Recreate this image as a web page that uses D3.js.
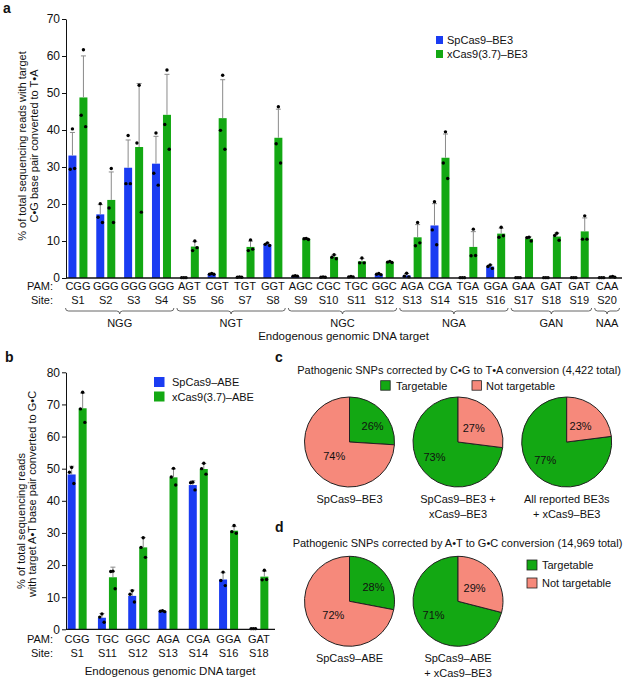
<!DOCTYPE html>
<html>
<head>
<meta charset="utf-8">
<script src="https://cdn.jsdelivr.net/npm/d3@7"></script>
<style>
  html, body { margin: 0; padding: 0; background: #fff; }
  svg text { font-family: "Liberation Sans", Arial, Helvetica, sans-serif; fill: #111; }
</style>
</head>
<body>
<svg id="chart" width="636" height="681"></svg>
<script>
// ---------------- DATA ----------------
// Panel a
const aSites = ["S1","S2","S3","S4","S5","S6","S7","S8","S9","S10","S11","S12","S13","S14","S15","S16","S17","S18","S19","S20"];
const aPams  = ["CGG","GGG","GGG","GGG","AGT","CGT","TGT","GGT","AGC","CGC","TGC","GGC","AGA","CGA","TGA","GGA","GAA","GAT","GAT","CAA"];
const aBlue  = [33.1,17.2,29.8,30.9,0.1,1.1,0.2,9.1,0.5,0.2,0.3,1.0,0.7,14.2,0.1,3.1,0.1,0.1,0.1,0.1];
const aGreen = [48.8,21.1,35.4,44.1,8.5,43.2,8.4,37.9,10.6,5.7,4.5,4.3,11.0,32.5,8.4,12.0,10.6,11.2,12.6,0.3];
const aBlueDots = [[40.3,29.4,29.6],[20.1,16.4,15.0],[38.5,25.5,25.5],[39.2,28.3,25.1],[0.1,0.1,0.1],[1.2,1.0,1.0],[0.3,0.2,0.2],[9.5,9.1,8.8],[0.6,0.5,0.5],[0.3,0.2,0.2],[0.4,0.3,0.3],[1.2,1.0,0.9],[1.3,0.5,0.3],[20.6,13.0,9.0],[0.1,0.1,0.1],[3.5,3.1,2.6],[0.1,0.1,0.1],[0.1,0.1,0.1],[0.1,0.1,0.1],[0.1,0.1,0.1]];
const aGreenDots = [[61.7,44.0,40.9],[29.6,18.9,15.0],[52.1,36.5,17.8],[56.2,41.5,34.8],[10.0,7.4,8.2],[54.8,39.9,34.8],[10.3,7.4,7.8],[46.3,36.3,31.1],[10.7,10.6,10.4],[6.3,5.6,5.2],[5.4,4.1,4.1],[4.5,4.3,4.2],[15.0,8.7,9.5],[39.5,31.1,26.9],[13.2,6.0,6.1],[13.7,11.0,11.4],[11.0,10.9,10.0],[12.1,11.5,10.2],[16.8,10.5,10.5],[0.4,0.3,0.2]];
const aGroups = [["NGG","S1","S4"],["NGT","S5","S8"],["NGC","S9","S12"],["NGA","S13","S16"],["GAN","S17","S19"],["NAA","S20","S20"]];
const aTicks = [0,10,20,30,40,50,60,70];
const aSeries = ["SpCas9–BE3","xCas9(3.7)–BE3"];

// Panel b
const bSites = ["S1","S11","S12","S13","S14","S16","S18"];
const bPams  = ["CGG","TGC","GGC","AGA","CGA","GGA","GAT"];
const bBlue  = [48.2,3.6,10.4,5.6,44.9,15.5,0.2];
const bGreen = [68.8,16.2,25.5,47.3,49.9,30.7,16.4];
const bBlueDots = [[50.4,48.9,45.4],[4.8,3.8,2.2],[12.0,10.9,8.5],[5.8,5.6,5.5],[45.8,45.6,43.4],[17.8,15.2,13.6],[0.2,0.2,0.2]];
const bGreenDots = [[73.8,68.6,64.4],[18.1,18.0,12.6],[28.5,25.5,22.4],[50.1,47.4,44.9],[51.7,50.0,48.3],[32.3,30.4,29.9],[18.4,15.4,15.5]];
const bTicks = [0,10,20,30,40,50,60,70,80];
const bSeries = ["SpCas9–ABE","xCas9(3.7)–ABE"];

// Panel c / d pies (Targetable %, Not targetable %)
const pieCats = ["Targetable","Not targetable"];
const cTargetable = [26,73,77];
const cNotTargetable = [74,27,23];
const cNames = [["SpCas9–BE3"],["SpCas9–BE3 +","xCas9–BE3"],["All reported BE3s","+ xCas9–BE3"]];
const dTargetable = [28,71];
const dNotTargetable = [72,29];
const dNames = [["SpCas9–ABE"],["SpCas9–ABE","+ xCas9–BE3"]];

// ---------------- STYLE ----------------
const BLUE = "#1a3cf2", GREEN = "#13a813", SALMON = "#f6897b", ERR = "#8a8a8a";
const svg = d3.select("#chart");

function sd(arr){ const m = d3.mean(arr); return Math.sqrt(d3.sum(arr, v => (v-m)*(v-m)) / (arr.length-1)); }

function barPanel(opt){
  const g = svg.append("g");
  const x = d3.scaleBand().domain(opt.sites).range(opt.xRange).padding(0);
  const inner = d3.scaleBand().domain(["blue","green"]).range([(x.bandwidth()-19)/2,(x.bandwidth()+19)/2]).paddingInner(0.2727);
  const y = d3.scaleLinear().domain(opt.yDomain).range(opt.yRange);
  const series = [
    {key:"blue", color:BLUE, vals:opt.blue, dots:opt.blueDots},
    {key:"green", color:GREEN, vals:opt.green, dots:opt.greenDots}
  ];
  series.forEach(s => {
    const sg = g.append("g");
    opt.sites.forEach((site,i) => {
      const x0 = x(site) + inner(s.key), bw = inner.bandwidth(), cx = x0 + bw/2;
      const v = s.vals[i], e = sd(s.dots[i]);
      sg.append("rect").attr("x", x0).attr("y", y(v)).attr("width", bw).attr("height", y(0)-y(v)).attr("fill", s.color);
      // error bar (upward)
      sg.append("line").attr("x1", cx).attr("x2", cx).attr("y1", y(v)).attr("y2", y(v+e)).attr("stroke", ERR).attr("stroke-width", 1);
      sg.append("line").attr("x1", cx-2.5).attr("x2", cx+2.5).attr("y1", y(v+e)).attr("y2", y(v+e)).attr("stroke", ERR).attr("stroke-width", 1);
      const offs = [0,-2.2,2.2];
      s.dots[i].forEach((d,j) => {
        sg.append("circle").attr("cx", cx + offs[j]).attr("cy", y(d)).attr("r", 1.7).attr("fill", "#000");
      });
    });
  });
  // y axis
  const ax = d3.axisLeft(y).tickValues(opt.ticks).tickSize(4).tickSizeOuter(0).tickPadding(2);
  const ag = g.append("g").attr("transform", `translate(${opt.axisX},0)`).call(ax);
  ag.selectAll("text").style("font-size","12px").attr("fill","#111");
  ag.selectAll("line,path").attr("stroke","#111");
  // x baseline
  const xa = d3.axisBottom(x).tickSize(0).tickSizeOuter(0).tickFormat("");
  const xg = g.append("g").attr("transform", `translate(0,${y(0)})`).call(xa);
  xg.select("path").attr("d", `M${opt.axisX},0H${opt.xRange[1]+1}`).attr("stroke","#111").attr("stroke-width",1.3);
  // PAM and Site labels
  g.append("text").attr("x", opt.axisX-13).attr("y", opt.pamY).attr("text-anchor","end").style("font-size","11px").text("PAM:");
  g.append("text").attr("x", opt.axisX-13).attr("y", opt.siteY).attr("text-anchor","end").style("font-size","11px").text("Site:");
  opt.sites.forEach((site,i) => {
    const cx = x(site) + x.bandwidth()/2;
    g.append("text").attr("x", cx).attr("y", opt.pamY).attr("text-anchor","middle").style("font-size","11px").text(opt.pams[i]);
    g.append("text").attr("x", cx).attr("y", opt.siteY).attr("text-anchor","middle").style("font-size","11px").text(site);
  });
  // title
  g.append("text").attr("x", (opt.axisX+opt.xRange[1])/2).attr("y", opt.titleY).attr("text-anchor","middle").style("font-size","11.5px").text("Endogenous genomic DNA target");
  // y label
  opt.yLabel.forEach(l => {
    g.append("text").attr("transform", `translate(${l[1]},${l[2]}) rotate(-90)`).attr("text-anchor","middle").style("font-size","11px").text(l[0]);
  });
  // legend
  series.forEach((s,i) => {
    const L = opt.legend;
    g.append("rect").attr("x", L.x).attr("y", L.y + i*L.dy).attr("width", L.w).attr("height", L.h).attr("fill", s.color);
    g.append("text").attr("x", L.tx).attr("y", L.y + i*L.dy + L.h/2 + 4).style("font-size","11px").text(opt.seriesNames[i]);
  });
  return {x, y, g};
}

// ---------- Panel a ----------
const pa = barPanel({
  sites: aSites, pams: aPams, blue: aBlue, green: aGreen, blueDots: aBlueDots, greenDots: aGreenDots,
  xRange: [64, 621], yDomain: [0,70], yRange: [278, 19], ticks: aTicks, axisX: 66,
  pamY: 290.3, siteY: 304, titleY: 339.5,
  yLabel: [["% of total sequencing reads with target", 26, 146], ["C•G base pair converted to T•A", 38, 146]],
  legend: {x: 436, y: 36, w: 7, h: 8, dy: 14, tx: 447},
  seriesNames: aSeries
});
// group brackets
aGroups.forEach(gr => {
  const x0 = pa.x(gr[1]) + 1.5, x1 = pa.x(gr[2]) + pa.x.bandwidth() - 1.5, xm = (x0+x1)/2, yb = 311;
  const path = `M${x0},${yb-3} Q${x0},${yb} ${x0+3},${yb} L${xm-3},${yb} Q${xm},${yb} ${xm},${yb+3} Q${xm},${yb} ${xm+3},${yb} L${x1-3},${yb} Q${x1},${yb} ${x1},${yb-3}`;
  pa.g.append("path").attr("d", path).attr("fill","none").attr("stroke","#555").attr("stroke-width",0.9);
  pa.g.append("text").attr("x", xm).attr("y", 326.5).attr("text-anchor","middle").style("font-size","11px").text(gr[0]);
});

// ---------- Panel b ----------
barPanel({
  sites: bSites, pams: bPams, blue: bBlue, green: bGreen, blueDots: bBlueDots, greenDots: bGreenDots,
  xRange: [62, 274], yDomain: [0,80], yRange: [629.3, 372.3], ticks: bTicks, axisX: 66,
  pamY: 643, siteY: 657, titleY: 674.5,
  yLabel: [["% of total sequencing reads", 25, 521], ["with target A•T base pair converted to G•C", 36, 494]],
  legend: {x: 154, y: 377, w: 10.5, h: 10, dy: 14.5, tx: 172},
  seriesNames: bSeries
});

// ---------- Panel labels ----------
[["a",3,13],["b",5,362],["c",275,362],["d",275,532]].forEach(p => {
  svg.append("text").attr("x",p[1]).attr("y",p[2]).style("font-size","14px").style("font-weight","bold").text(p[0]);
});

// ---------- Pies ----------
const pieColor = d3.scaleOrdinal().domain(pieCats).range([GREEN, SALMON]);
const pieGen = d3.pie().value(d => d.v).sort((a,b) => a.v - b.v);
const R = 45;
const arc = d3.arc().innerRadius(0).outerRadius(R);

function drawPie(cx, cy, targ, notT, names){
  const data = [{k:"Targetable", v:targ},{k:"Not targetable", v:notT}];
  const arcs = pieGen(data);
  const g = svg.append("g").attr("transform", `translate(${cx},${cy})`);
  g.selectAll("path").data(arcs).join("path").attr("d", arc).attr("fill", d => pieColor(d.data.k)).attr("stroke","#222").attr("stroke-width",1);
  arcs.forEach((d,i) => {
    const lr = i === 0 ? 28 : 21;
    const a = (d.startAngle + d.endAngle)/2 + (i === 0 ? 0.15 : 0);
    g.append("text").attr("x", Math.sin(a)*lr).attr("y", -Math.cos(a)*lr + 4).attr("text-anchor","middle").style("font-size","11px").text(d.data.v + "%");
  });
  names.forEach((n,i) => {
    g.append("text").attr("x", 0).attr("y", R + 60 - 45 + i*14.5 + 1).attr("text-anchor","middle").style("font-size","11px").text(n);
  });
}
const cCx = [349.5, 458, 566.7];
cTargetable.forEach((t,i) => drawPie(cCx[i], 442, t, cNotTargetable[i], cNames[i]));
dTargetable.forEach((t,i) => drawPie(cCx[i], 601.3, t, dNotTargetable[i], dNames[i]));

// titles
svg.append("text").attr("x", 459).attr("y", 374).attr("text-anchor","middle").style("font-size","11px").text("Pathogenic SNPs corrected by C•G to T•A conversion (4,422 total)");
svg.append("text").attr("x", 457.5).attr("y", 546.5).attr("text-anchor","middle").style("font-size","11px").text("Pathogenic SNPs corrected by A•T to G•C conversion (14,969 total)");

// c legend (horizontal)
[[380.7,396],[472,486]].forEach((p,i) => {
  svg.append("rect").attr("x",p[0]).attr("y",380.7).attr("width",9.5).attr("height",9.5).attr("fill",pieColor(pieCats[i])).attr("stroke","#222").attr("stroke-width",0.8);
  svg.append("text").attr("x",p[1]).attr("y",389.5).style("font-size","11px").text(pieCats[i]);
});
// d legend (vertical)
pieCats.forEach((c,i) => {
  svg.append("rect").attr("x",527).attr("y",560 + i*18).attr("width",10).attr("height",10).attr("fill",pieColor(c)).attr("stroke","#222").attr("stroke-width",0.8);
  svg.append("text").attr("x",542).attr("y",569 + i*18).style("font-size","11px").text(c);
});
</script>
</body>
</html>
